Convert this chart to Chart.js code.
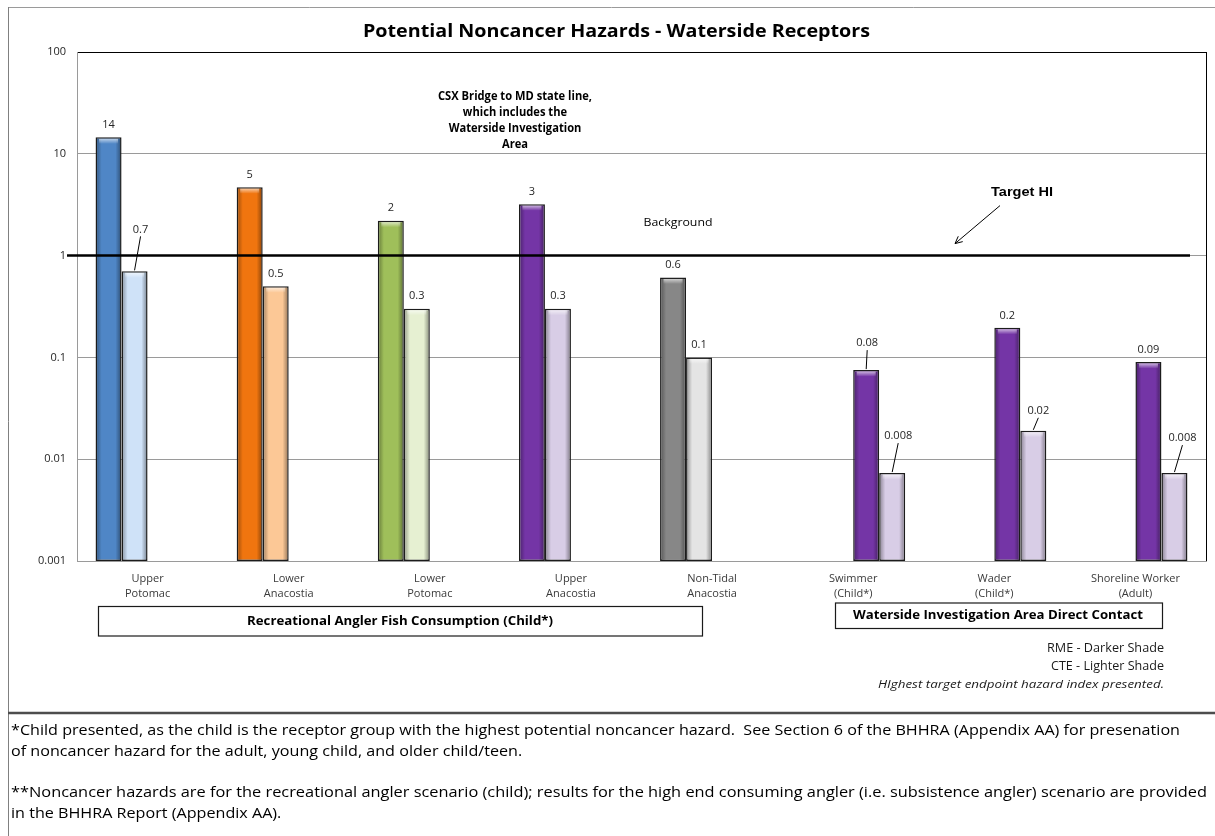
<!DOCTYPE html>
<html><head><meta charset="utf-8">
<script src="https://cdn.jsdelivr.net/npm/chart.js@4.4.1/dist/chart.umd.min.js"></script>
<style>html,body{margin:0;padding:0;background:#fff;}canvas{display:block;}</style>
</head><body>
<canvas id="c" width="1215" height="836"></canvas>
<script>
// ---------- data ----------
const categories = [["Upper","Potomac"],["Lower","Anacostia"],["Lower","Potomac"],["Upper","Anacostia"],["Non-Tidal","Anacostia"],["Swimmer","(Child*)"],["Wader","(Child*)"],["Shoreline Worker","(Adult)"]];
const groups = ["fish","fish","fish","fish","fish","contact","contact","contact"];
const rmeValues = [14.5, 4.7, 2.2, 3.2, 0.61, 0.075, 0.195, 0.09];
const cteValues = [0.7, 0.5, 0.3, 0.3, 0.1, 0.0073, 0.019, 0.0073];
const rmeLabels = ["14","5","2","3","0.6","0.08","0.2","0.09"];
const cteLabels = ["0.7","0.5","0.3","0.3","0.1","0.008","0.02","0.008"];
const yTickValues = [0.001, 0.01, 0.1, 1, 10, 100];
const targetHI = 1;

// ---------- styles ----------
const rmeColors = ["#4f86c6","#f0750f","#9fbf5a","#7435a6","#878787","#7435a6","#7435a6","#7435a6"];
const cteColors = ["#cfe2f8","#fcc896","#e6f0d2","#d8cde6","#e4e4e4","#d8cde6","#d8cde6","#d8cde6"];
const SANS = "'Open Sans', 'Noto Sans', sans-serif";
const labelOffsets = {"1:0":[6,-42],"2:5":[1,-27],"3:5":[6,-37],"3:6":[5,-20],"3:7":[8,-35]};

const pick = (arr, g) => arr.map((v, i) => groups[i] === g ? v : null);

function txt(ctx, s, x, y, font, opts) {
  opts = opts || {};
  ctx.save();
  ctx.font = font;
  ctx.fillStyle = opts.color || '#000';
  ctx.textBaseline = 'middle';
  ctx.textAlign = 'left';
  const w = ctx.measureText(s).width;
  const sx = opts.width ? opts.width / w : (opts.scale || 1);
  const align = opts.align || 'center';
  const left = align === 'center' ? x - w * sx / 2 : (align === 'right' ? x - w * sx : x);
  ctx.translate(left, y);
  ctx.scale(sx, 1);
  ctx.fillText(s, 0, 0);
  ctx.restore();
  return sx;
}

const decor = {
  id: 'decor',
  beforeDraw(chart) {
    const ctx = chart.ctx;
    ctx.save();
    ctx.fillStyle = '#fff';
    ctx.fillRect(0, 0, chart.width, chart.height);
    ctx.strokeStyle = '#9a9a9a'; ctx.lineWidth = 1;
    ctx.beginPath(); ctx.moveTo(8, 7.5); ctx.lineTo(1215, 7.5); ctx.stroke();
    ctx.strokeStyle = '#808080';
    ctx.beginPath(); ctx.moveTo(8.5, 7); ctx.lineTo(8.5, 836); ctx.stroke();
    ctx.strokeStyle = '#4d4d4d'; ctx.lineWidth = 2.5;
    ctx.beginPath(); ctx.moveTo(8, 713); ctx.lineTo(1215, 713); ctx.stroke();
    ctx.restore();
  },
  afterDatasetsDraw(chart) {
    const ctx = chart.ctx;
    const ca = chart.chartArea;
    ctx.save();
    chart.data.datasets.forEach((ds, di) => {
      const meta = chart.getDatasetMeta(di);
      meta.data.forEach((el, i) => {
        if (ds.data[i] == null) return;
        const p = el.getProps(['x', 'y', 'base', 'width'], true);
        const l = p.x - p.width / 2 + 1.5, r = p.x + p.width / 2 - 1.5;
        const t = p.y + 1.5, b = Math.min(p.base, ca.bottom) - 0.5;
        const g = ctx.createLinearGradient(l, 0, r, 0);
        g.addColorStop(0, 'rgba(0,0,0,0.28)');
        g.addColorStop(0.2, 'rgba(0,0,0,0)');
        g.addColorStop(0.8, 'rgba(0,0,0,0)');
        g.addColorStop(1, 'rgba(0,0,0,0.32)');
        ctx.fillStyle = g;
        ctx.fillRect(l, t, r - l, b - t);
        const h = ctx.createLinearGradient(0, t, 0, t + 5);
        h.addColorStop(0, 'rgba(255,255,255,0.6)');
        h.addColorStop(1, 'rgba(255,255,255,0)');
        ctx.fillStyle = h;
        ctx.fillRect(l + 2, t, r - l - 4, 5);
      });
    });
    ctx.restore();
  },
  afterDraw(chart) {
    const ctx = chart.ctx;
    const ca = chart.chartArea;
    const ys = chart.scales.y;
    ctx.save();
    // right plot border
    ctx.strokeStyle = '#000'; ctx.lineWidth = 1;
    ctx.beginPath(); ctx.moveTo(ca.right + 0.5, ca.top); ctx.lineTo(ca.right + 0.5, ca.bottom); ctx.stroke();
    // target HI line
    const yT = ys.getPixelForValue(targetHI);
    ctx.lineWidth = 2.5;
    ctx.beginPath(); ctx.moveTo(ca.left - 10, yT); ctx.lineTo(ca.right - 16, yT); ctx.stroke();

    // value labels
    chart.data.datasets.forEach((ds, di) => {
      const meta = chart.getDatasetMeta(di);
      meta.data.forEach((el, i) => {
        if (ds.data[i] == null) return;
        const p = el.getProps(['x', 'y'], true);
        const off = labelOffsets[di + ':' + i] || [0, -12.5];
        const lx = p.x + off[0], ly = p.y + off[1];
        txt(ctx, ds.valueLabels[i], lx, ly, '11px ' + SANS, {color: '#262626'});
        if (off[1] < -16) {
          ctx.strokeStyle = '#000'; ctx.lineWidth = 1;
          ctx.beginPath(); ctx.moveTo(lx, ly + 7); ctx.lineTo(p.x, p.y - 1); ctx.stroke();
        }
      });
    });

    // title
    txt(ctx, 'Potential Noncancer Hazards - Waterside Receptors', 616.5, 32, 'bold 17px ' + SANS, {width: 507});
    // CSX note
    const s1 = txt(ctx, 'CSX Bridge to MD state line,', 515, 97, 'bold 11.5px ' + SANS, {width: 154});
    txt(ctx, 'which includes the', 515, 112.7, 'bold 11.5px ' + SANS, {scale: s1});
    txt(ctx, 'Waterside Investigation', 515, 128.7, 'bold 11.5px ' + SANS, {scale: s1});
    txt(ctx, 'Area', 515, 144.3, 'bold 11.5px ' + SANS, {scale: s1});
    // Background
    txt(ctx, 'Background', 678, yT - 32.5, '11.5px ' + SANS, {width: 69});
    // Target HI + arrow
    txt(ctx, 'Target HI', 1022, yT - 63.5, "bold 12.5px 'Liberation Sans', Arial, sans-serif", {width: 62});
    const ax0 = 1000, ay0 = yT - 50, ax1 = 955, ay1 = yT - 12;
    ctx.strokeStyle = '#000'; ctx.lineWidth = 1;
    ctx.beginPath(); ctx.moveTo(ax0, ay0); ctx.lineTo(ax1, ay1); ctx.stroke();
    const ang = Math.atan2(ay1 - ay0, ax1 - ax0);
    ctx.beginPath();
    ctx.moveTo(ax1 - 8 * Math.cos(ang - 0.45), ay1 - 8 * Math.sin(ang - 0.45));
    ctx.lineTo(ax1, ay1);
    ctx.lineTo(ax1 - 8 * Math.cos(ang + 0.45), ay1 - 8 * Math.sin(ang + 0.45));
    ctx.stroke();

    // group boxes
    ctx.strokeStyle = '#1a1a1a'; ctx.lineWidth = 1.2;
    ctx.strokeRect(98.5, 606.5, 604, 29.5);
    txt(ctx, 'Recreational Angler Fish Consumption (Child*)', 400, 621, 'bold 13px ' + SANS, {width: 306});
    ctx.strokeRect(835.5, 603, 327, 25.5);
    txt(ctx, 'Waterside Investigation Area Direct Contact', 998, 615.5, 'bold 13px ' + SANS, {width: 290});

    // notes
    txt(ctx, 'RME - Darker Shade', 1164, 648.5, '12px ' + SANS, {width: 117, align: 'right', color: '#1a1a1a'});
    txt(ctx, 'CTE - Lighter Shade', 1164, 667, '12px ' + SANS, {width: 113, align: 'right', color: '#1a1a1a'});
    txt(ctx, 'HIghest target endpoint hazard index presented.', 1164, 685, 'italic 11.5px ' + SANS, {width: 286, align: 'right', color: '#1a1a1a'});

    // footnotes
    const f = '14.5px ' + SANS;
    const fs = txt(ctx, '*Child presented, as the child is the receptor group with the highest potential noncancer hazard.  See Section 6 of the BHHRA (Appendix AA) for presenation', 11, 731, f, {width: 1169, align: 'left'});
    txt(ctx, 'of noncancer hazard for the adult, young child, and older child/teen.', 11, 752, f, {scale: fs, align: 'left'});
    txt(ctx, '**Noncancer hazards are for the recreational angler scenario (child); results for the high end consuming angler (i.e. subsistence angler) scenario are provided', 11, 793, f, {width: 1196, align: 'left'});
    txt(ctx, 'in the BHHRA Report (Appendix AA).', 11, 814, f, {scale: fs, align: 'left'});
    ctx.restore();
  }
};

const barCommon = {borderColor: '#1c1c1c', borderWidth: 1.5, borderSkipped: false, categoryPercentage: 0.737, barPercentage: 1.0};

new Chart(document.getElementById('c'), {
  type: 'bar',
  data: {
    labels: categories,
    datasets: [
      Object.assign({label: 'Fish RME', data: pick(rmeValues, 'fish'), backgroundColor: rmeColors, valueLabels: rmeLabels}, barCommon),
      Object.assign({label: 'Fish CTE', data: pick(cteValues, 'fish'), backgroundColor: cteColors, valueLabels: cteLabels}, barCommon),
      Object.assign({label: 'Contact RME', data: pick(rmeValues, 'contact'), backgroundColor: rmeColors, valueLabels: rmeLabels}, barCommon),
      Object.assign({label: 'Contact CTE', data: pick(cteValues, 'contact'), backgroundColor: cteColors, valueLabels: cteLabels}, barCommon)
    ]
  },
  options: {
    responsive: false,
    animation: false,
    devicePixelRatio: 1,
    layout: {padding: {left: 0, right: 9, top: 52, bottom: 225}},
    plugins: {legend: {display: false}, tooltip: {enabled: false}, title: {display: false}},
    scales: {
      x: {
        type: 'category',
        grid: {display: false, drawTicks: false},
        border: {display: true, color: '#9a9a9a', width: 1},
        ticks: {color: '#3a3a3a', font: {family: SANS, size: 11, lineHeight: '15px'}, padding: 10, maxRotation: 0, autoSkip: false},
        afterFit(s) { s.height = 50; }
      },
      y: {
        type: 'logarithmic',
        min: 0.001, max: 100,
        afterBuildTicks(s) { s.ticks = yTickValues.map(v => ({value: v})); },
        grid: {
          drawTicks: false,
          lineWidth: 1,
          color: c => (c.tick && c.tick.value === 100) ? '#000' : '#9a9a9a'
        },
        border: {display: true, color: '#9a9a9a', width: 1},
        ticks: {color: '#262626', font: {family: SANS, size: 11}, padding: 11, autoSkip: false, callback: v => String(v)},
        afterFit(s) { s.width = 77; }
      }
    }
  },
  plugins: [decor]
});
</script>
</body></html>
